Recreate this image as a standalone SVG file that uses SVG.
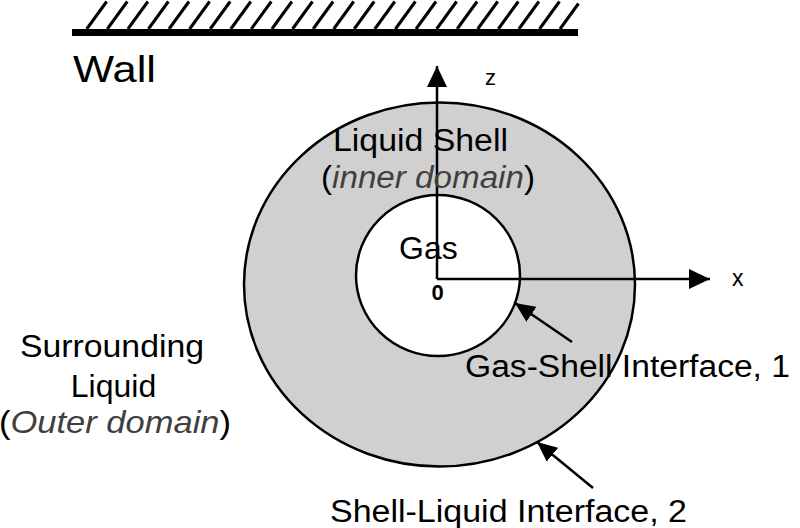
<svg xmlns="http://www.w3.org/2000/svg" width="800" height="528" viewBox="0 0 800 528">
<defs>
<style>
.t{font-family:"Liberation Sans",Arial,sans-serif;fill:#000}
.it{font-style:italic;fill:#404040}
.ln{stroke:#000;stroke-width:2.5;fill:none}
.hatch{stroke:#000;stroke-width:3}
</style>
<marker id="ah" markerUnits="userSpaceOnUse" markerWidth="21" markerHeight="20" refX="21" refY="10" orient="auto">
<path d="M0,0 L21,10 L0,20 Z" fill="#000"/>
</marker>
<marker id="ah2" markerUnits="userSpaceOnUse" markerWidth="20" markerHeight="18" refX="20" refY="9" orient="auto">
<path d="M0,0 L20,9 L0,18 Z" fill="#000"/>
</marker>
</defs>
<rect width="800" height="528" fill="#fff"/>
<g id="wall">
<rect x="72" y="29" width="506" height="7" fill="#000"/>
<g class="hatch">
<line x1="86.7" y1="29" x2="106.7" y2="1.5"/>
<line x1="107.3" y1="29" x2="127.3" y2="1.5"/>
<line x1="127.9" y1="29" x2="147.9" y2="1.5"/>
<line x1="148.4" y1="29" x2="168.4" y2="1.5"/>
<line x1="169.0" y1="29" x2="189.0" y2="1.5"/>
<line x1="189.6" y1="29" x2="209.6" y2="1.5"/>
<line x1="210.2" y1="29" x2="230.2" y2="1.5"/>
<line x1="230.8" y1="29" x2="250.8" y2="1.5"/>
<line x1="251.3" y1="29" x2="271.3" y2="1.5"/>
<line x1="271.9" y1="29" x2="291.9" y2="1.5"/>
<line x1="292.5" y1="29" x2="312.5" y2="1.5"/>
<line x1="313.1" y1="29" x2="333.1" y2="1.5"/>
<line x1="333.7" y1="29" x2="353.7" y2="1.5"/>
<line x1="354.2" y1="29" x2="374.2" y2="1.5"/>
<line x1="374.8" y1="29" x2="394.8" y2="1.5"/>
<line x1="395.4" y1="29" x2="415.4" y2="1.5"/>
<line x1="416.0" y1="29" x2="436.0" y2="1.5"/>
<line x1="436.6" y1="29" x2="456.6" y2="1.5"/>
<line x1="457.1" y1="29" x2="477.1" y2="1.5"/>
<line x1="477.7" y1="29" x2="497.7" y2="1.5"/>
<line x1="498.3" y1="29" x2="518.3" y2="1.5"/>
<line x1="518.9" y1="29" x2="538.9" y2="1.5"/>
<line x1="539.5" y1="29" x2="559.5" y2="1.5"/>
<line x1="560.0" y1="29" x2="578.5" y2="3.5"/>
</g>
<text class="t" x="73" y="82" font-size="36" textLength="83" lengthAdjust="spacingAndGlyphs">Wall</text>
</g>
<g id="shell">
<ellipse cx="439.5" cy="284.5" rx="195.5" ry="182" fill="#d0d0d0" stroke="#000" stroke-width="2.5"/>
</g>
<g id="gas">
<ellipse cx="438" cy="275.5" rx="82" ry="80.5" fill="#fff" stroke="#000" stroke-width="2.5"/>
</g>
<g id="connectors">
<line class="ln" x1="437" y1="279" x2="437" y2="66" marker-end="url(#ah)"/>
<line class="ln" x1="437" y1="279" x2="710" y2="279" marker-end="url(#ah)"/>
<line class="ln" x1="572" y1="342" x2="515" y2="303" marker-end="url(#ah2)"/>
<line class="ln" x1="593" y1="488" x2="537" y2="442" marker-end="url(#ah2)"/>
</g>
<g id="labels">
<text class="t" x="485" y="85" font-size="22">z</text>
<text class="t" x="732" y="286" font-size="23">x</text>
<text class="t" x="437.5" y="300" font-size="22" font-weight="bold" text-anchor="middle">0</text>
<text class="t" x="333" y="151" font-size="31" textLength="175" lengthAdjust="spacingAndGlyphs">Liquid Shell</text>
<text class="t" x="321" y="188" font-size="31" textLength="214" lengthAdjust="spacingAndGlyphs">(<tspan class="it">inner domain</tspan>)</text>
<text class="t" x="399" y="259" font-size="32">Gas</text>
<text class="t" x="465" y="377" font-size="31" textLength="325" lengthAdjust="spacingAndGlyphs">Gas-Shell Interface, 1</text>
<text class="t" x="330" y="522" font-size="31" textLength="357" lengthAdjust="spacingAndGlyphs">Shell-Liquid Interface, 2</text>
<text class="t" x="20" y="357" font-size="32" textLength="184" lengthAdjust="spacingAndGlyphs">Surrounding</text>
<text class="t" x="113.5" y="397" font-size="32" text-anchor="middle">Liquid</text>
<text class="t" x="-1" y="433" font-size="32" textLength="232" lengthAdjust="spacingAndGlyphs">(<tspan class="it">Outer domain</tspan>)</text>
</g>
</svg>
